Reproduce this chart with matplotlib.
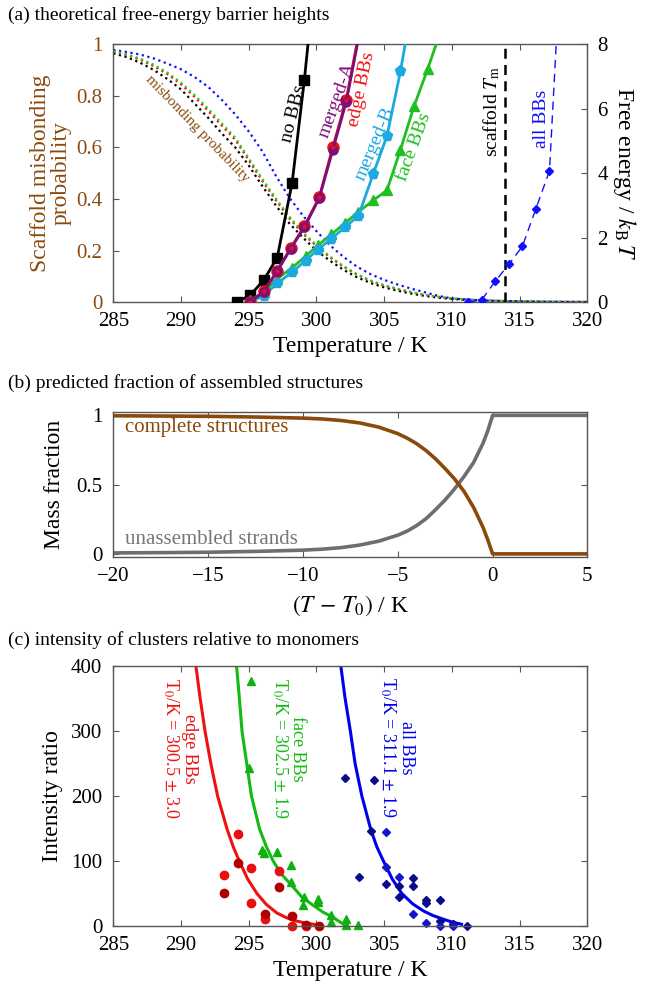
import matplotlib
matplotlib.use("Agg")
import matplotlib.pyplot as plt

plt.rcParams['font.family'] = ['Liberation Serif', 'DejaVu Serif']
plt.rcParams['mathtext.fontset'] = 'stix'

# ---------------- data ----------------
# (a) misbonding probability (left axis)
T_mis = [285, 286, 287, 288, 289, 290, 291, 292, 293, 294, 295, 296, 297, 298, 299, 300,
         301, 302, 303, 304, 305, 306, 307, 308, 309, 310, 312, 314, 316, 318, 320]
mis_black = [0.965, 0.95, 0.928, 0.90, 0.865, 0.825, 0.77, 0.715, 0.655, 0.60, 0.53, 0.45, 0.375,
             0.305, 0.25, 0.20, 0.16, 0.125, 0.096, 0.074, 0.057, 0.044, 0.033, 0.024, 0.017,
             0.012, 0.006, 0.003, 0.0015, 0.0007, 0.0003]
mis_red = [0.972, 0.958, 0.94, 0.915, 0.884, 0.845, 0.796, 0.742, 0.685, 0.63, 0.55, 0.47, 0.395,
           0.325, 0.265, 0.217, 0.173, 0.137, 0.106, 0.082, 0.064, 0.050, 0.038, 0.028, 0.020,
           0.014, 0.007, 0.004, 0.002, 0.001, 0.0005]
mis_green = [0.974, 0.961, 0.944, 0.92, 0.89, 0.851, 0.803, 0.75, 0.693, 0.638, 0.558, 0.478, 0.402,
             0.331, 0.27, 0.221, 0.176, 0.139, 0.108, 0.083, 0.065, 0.051, 0.039, 0.028, 0.020,
             0.014, 0.007, 0.004, 0.002, 0.001, 0.0005]
mis_blue = [0.978, 0.97, 0.96, 0.945, 0.925, 0.903, 0.873, 0.835, 0.785, 0.728, 0.662, 0.585, 0.49,
            0.405, 0.335, 0.275, 0.22, 0.175, 0.137, 0.108, 0.086, 0.068, 0.052, 0.038, 0.024,
            0.014, 0.007, 0.004, 0.002, 0.001, 0.0005]

# (a) free-energy barrier heights (right axis, kBT)
T_nobb = [294.1, 295.1, 296.1, 297.1, 298.2, 299.1, 300.1]
fe_nobb = [0.0, 0.21, 0.68, 1.38, 3.70, 6.88, 11.0]
T_edge = [295.1, 296.1, 297.1, 298.1, 299.1, 300.2, 301.2, 302.2, 303.2]
fe_edge = [0.0, 0.33, 0.97, 1.68, 2.35, 3.25, 4.80, 6.28, 8.5]
fe_mergA = [0.0, 0.32, 0.96, 1.66, 2.32, 3.22, 4.72, 6.22, 8.4]
T_mergB = [295.1, 296.1, 297.1, 298.2, 299.2, 300.1, 301.1, 302.1, 303.1, 304.2, 305.2, 306.2, 307.2]
fe_mergB = [0.0, 0.2, 0.58, 0.93, 1.29, 1.63, 1.97, 2.32, 2.68, 3.99, 5.15, 7.16, 9.6]
T_face = [295.1, 296.1, 297.1, 298.2, 299.2, 300.1, 301.1, 302.1, 303.1, 304.2, 305.2, 306.2,
          307.2, 308.2, 309.2]
fe_face = [0.05, 0.3, 0.72, 1.07, 1.42, 1.76, 2.1, 2.45, 2.8, 3.16, 3.47, 4.73, 6.08, 7.22, 8.45]
T_all = [311.2, 312.2, 313.2, 314.2, 315.2, 316.2, 317.2, 318.2]
fe_all = [0.0, 0.07, 0.65, 1.17, 1.73, 2.9, 4.07, 12.0]
T_scaffold_m = 313.9

# (b) mass fractions
dT = [-20, -17.5, -15, -12.5, -10, -9, -8, -7, -6, -5, -4.5, -4, -3.5, -3, -2.5, -2, -1.5,
      -1, -0.5, -0.25, 0, 5]
complete = [0.997, 0.995, 0.993, 0.988, 0.98, 0.974, 0.963, 0.945, 0.915, 0.868, 0.835, 0.795,
            0.745, 0.685, 0.615, 0.54, 0.45, 0.335, 0.19, 0.1, 0.0, 0.0]
unassembled = [0.007, 0.009, 0.012, 0.018, 0.027, 0.034, 0.045, 0.064, 0.092, 0.135, 0.165, 0.205,
               0.255, 0.32, 0.39, 0.47, 0.56, 0.66, 0.8, 0.89, 1.0, 1.0]

# (c) intensity ratio data and fits
T_edge_a = [293.2, 294.2, 295.2, 295.2, 296.2, 297.2, 298.2, 299.2]
I_edge_a = [78, 142, 89, 35, 11, 84, 0, 0]
T_edge_b = [293.2, 294.2, 296.2, 297.2, 298.2, 299.2, 300.2]
I_edge_b = [50, 97, 18, 60, 15, 2, 0]
T_face_pts = [295.2, 295.0, 296.0, 296.1, 297.1, 298.1, 298.1, 299.0, 299.1, 300.1, 300.1,
              301.1, 301.1, 302.2, 302.2, 303.1]
I_face_pts = [377, 243, 117, 113, 114, 94, 67, 32, 44, 41, 37, 17, 6, 11, 1, 1]
T_all_a = [302.1, 304.25, 304.0, 303.15, 305.1, 306.1, 306.1, 307.1, 307.1, 308.1, 308.1,
           309.1, 309.1, 310.1, 311.1]
I_all_a = [228, 225, 146, 75, 64, 61, 44, 74, 61, 40, 36, 40, 8, 3, 0]
T_all_b = [305.1, 305.1, 306.1, 307.1, 308.1, 309.1, 310.1]
I_all_b = [144, 90, 75, 18, 5, 0, 0]

T_fit_edge = [291.1, 291.4, 291.77, 292.2, 292.7, 293.4, 293.85, 294.3, 294.9, 295.6, 296.3,
              297.07, 297.8, 298.5, 299.3, 300.14]
I_fit_edge = [400, 352, 300, 250, 200, 149, 122, 100, 73, 50, 33, 20, 12.5, 7.7, 4, 1.5]
T_fit_face = [294.1, 294.3, 294.5, 294.85, 295.2, 295.8, 296.3, 296.8, 297.4, 298.1, 298.9,
              299.8, 300.5, 301.25, 301.6, 302.0]
I_fit_face = [400, 352, 300, 250, 200, 149, 122, 100, 80, 64, 45, 31, 21, 13, 8, 2.5]
T_fit_all = [301.8, 302.1, 302.5, 302.85, 303.35, 304.0, 304.45, 304.94, 305.6, 306.3, 307.1,
             307.9, 308.6, 309.37, 310.0, 310.7]
I_fit_all = [400, 352, 300, 250, 200, 149, 122, 100, 72, 50, 34, 23, 16, 10.3, 6, 2.6]

# ---------------- colours ----------------
brown = '#8a4a0c'
purple = '#7d0f7d'
cyan = '#1ea8e0'
green = '#1fbf1f'
spine = '#555555'

fig = plt.figure(figsize=(6.49, 9.84), dpi=100)


def style(ax):
    for s in ax.spines.values():
        s.set_color(spine)
        s.set_linewidth(1.0)
    ax.tick_params(direction='in', length=4, width=0.8, labelsize=15, color=spine,
                   top=True, right=True)
    ax.tick_params(axis='x', pad=7)
    ax.tick_params(axis='y', pad=8)


# ---------------- (a) ----------------
ax1 = fig.add_axes([0.1746, 0.693, 0.7305, 0.262])
style(ax1)
ax1.tick_params(axis='y', right=False, labelcolor=brown)
dot = (0, (1, 1.6))
ax1.plot(T_mis, mis_blue, color='#1010ff', lw=1.6, ls=dot)
ax1.plot(T_mis, mis_black, color='black', lw=1.6, ls=dot)
ax1.plot(T_mis, mis_red, color='#ff1010', lw=1.6, ls=dot)
ax1.plot(T_mis, mis_green, color='#20d020', lw=1.6, ls=dot)
ax1.set_xlim(285, 320)
ax1.set_ylim(0, 1)
ax1.set_xticks([285, 290, 295, 300, 305, 310, 315, 320])
ax1.set_yticks([0, 0.2, 0.4, 0.6, 0.8, 1])
ax1.set_yticklabels(['0', '0.2', '0.4', '0.6', '0.8', '1'])
ax1.set_xlabel('Temperature / K', fontsize=17, labelpad=4)
ax1.set_ylabel('Scaffold misbonding\nprobability', fontsize=17, color=brown, labelpad=3,
               linespacing=1.0)
ax1.text(291.2, 0.67, 'misbonding probability', color=brown, fontsize=11, rotation=-46,
         ha='center', va='center')

ax2 = ax1.twinx()
for s in ax2.spines.values():
    s.set_visible(False)
ax2.tick_params(direction='in', length=4, width=0.8, labelsize=15, color=spine, pad=7)
ax2.set_ylim(0, 8)
ax2.set_yticks([0, 2, 4, 6, 8])
ax2.axvline(T_scaffold_m, color='black', lw=1.8, ls=(0, (4, 2.5)))
ax2.plot(T_all, fe_all, color='#1010ff', lw=1.0, ls=(0, (6, 4)), marker='D', ms=4)
ax2.plot(T_nobb, fe_nobb, color='black', lw=2.0, marker='s', ms=6.5)
ax2.plot(T_face, fe_face, color=green, lw=2.0, marker='^', ms=7.5)
ax2.plot(T_mergB, fe_mergB, color=cyan, lw=2.0, marker='p', ms=8)
ax2.plot(T_edge, fe_edge, color='#ee1111', lw=2.0, marker='o', ms=8)
ax2.plot(T_edge, fe_mergA, color=purple, lw=2.0, marker='o', ms=6.5)
ax2.plot(T_edge, fe_edge, color='#ee1111', lw=0, marker='o', ms=2)
ax2.set_ylabel(r'Free energy / $k_\mathrm{B}\,T$', fontsize=17, rotation=270, labelpad=22)

ax2.text(298.3, 5.85, 'no BBs', fontsize=14, rotation=76, ha='center', va='center')
ax2.text(301.5, 6.26, 'merged-A', fontsize=14, rotation=70, color=purple, ha='center', va='center')
ax2.text(303.3, 6.6, 'edge BBs', fontsize=14, rotation=78, color='#ee1111', ha='center', va='center')
ax2.text(304.3, 4.92, 'merged-B', fontsize=14, rotation=67, color=cyan, ha='center', va='center')
ax2.text(307.2, 4.83, 'face BBs', fontsize=14, rotation=70, color=green, ha='center', va='center')
ax2.text(312.95, 5.9, r'scaffold $T_\mathrm{m}$', fontsize=14, rotation=90, ha='center', va='center')
ax2.text(316.6, 5.69, 'all BBs', fontsize=14, rotation=90, color='#1010ff', ha='center', va='center')

# ---------------- (b) ----------------
axb = fig.add_axes([0.1746, 0.434, 0.7305, 0.147])
style(axb)
axb.plot(dT, unassembled, color='#6e6e6e', lw=2.6)
axb.plot(dT, complete, color=brown, lw=2.6)
axb.set_xlim(-20, 5)
axb.set_ylim(-0.022, 1.022)
axb.set_xticks([-20, -15, -10, -5, 0, 5])
axb.set_yticks([0, 0.5, 1])
axb.set_yticklabels(['0', '0.5', '1'])
axb.set_xlabel(r'$(T\,-\,T_0)$ / K', fontsize=17, labelpad=6)
axb.set_ylabel('Mass fraction', fontsize=17, labelpad=8)
axb.text(-19.4, 0.915, 'complete structures', color=brown, fontsize=15, ha='left', va='center')
axb.text(-19.4, 0.105, 'unassembled strands', color='#777777', fontsize=15, ha='left', va='center')

# ---------------- (c) ----------------
axc = fig.add_axes([0.1746, 0.059, 0.7305, 0.264])
style(axc)
axc.plot(T_fit_edge, I_fit_edge, color='#ee1111', lw=2.2)
axc.plot(T_fit_face, I_fit_face, color='#11bb11', lw=2.2)
axc.plot(T_fit_all, I_fit_all, color='#0000ee', lw=2.2)
axc.plot(T_edge_a, I_edge_a, ls='none', marker='o', ms=6, color='#e81010', clip_on=False)
axc.plot(T_edge_b, I_edge_b, ls='none', marker='o', ms=6, color='#b00000', clip_on=False)
axc.plot(T_face_pts, I_face_pts, ls='none', marker='^', ms=6, color='#10b010', clip_on=False)
axc.plot(T_all_a, I_all_a, ls='none', marker='D', ms=4, color='#0a0a8c', clip_on=False)
axc.plot(T_all_b, I_all_b, ls='none', marker='D', ms=4, color='#1515cc', clip_on=False)
axc.set_xlim(285, 320)
axc.set_ylim(0, 400)
axc.set_xticks([285, 290, 295, 300, 305, 310, 315, 320])
axc.set_yticks([0, 100, 200, 300, 400])
axc.set_xlabel('Temperature / K', fontsize=17, labelpad=4)
axc.set_ylabel('Intensity ratio', fontsize=17, labelpad=6)
axc.text(289.9, 273, 'edge BBs\n' + r'T$_0$/K = 300.5 $\pm$ 3.0', color='#ee1111', fontsize=13,
         rotation=-90, ha='center', va='center', multialignment='center', linespacing=1.0)
axc.text(297.9, 273, 'face BBs\n' + r'T$_0$/K = 302.5 $\pm$ 1.9', color='#11bb11', fontsize=13,
         rotation=-90, ha='center', va='center', multialignment='center', linespacing=1.0)
axc.text(305.9, 274, 'all BBs\n' + r'T$_0$/K = 311.1 $\pm$ 1.9', color='#0000ee', fontsize=13,
         rotation=-90, ha='center', va='center', multialignment='center', linespacing=1.0)

# ---------------- titles ----------------
fig.text(0.012, 0.985, '(a) theoretical free-energy barrier heights', fontsize=14, va='center')
fig.text(0.012, 0.611, '(b) predicted fraction of assembled structures', fontsize=14, va='center')
fig.text(0.012, 0.350, '(c) intensity of clusters relative to monomers', fontsize=14, va='center')

fig.savefig('out.png', dpi=100)
